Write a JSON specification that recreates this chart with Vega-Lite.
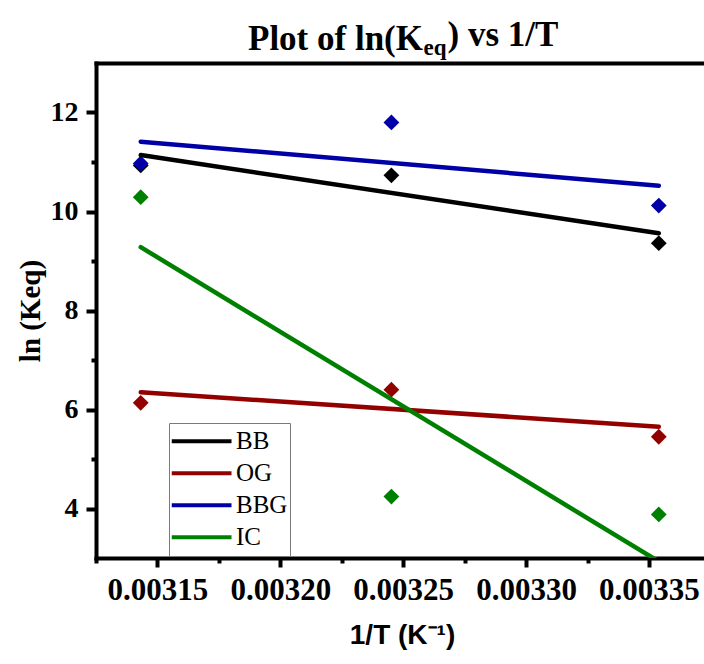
{
  "$schema": "https://vega.github.io/schema/vega-lite/v6.json",
  "width": 608,
  "height": 495,
  "autosize": {"type": "none"},
  "padding": {"left": 96, "top": 63, "right": 0, "bottom": 106},
  "background": "white",
  "view": {"stroke": null},
  "title": {
    "text": "Plot of ln(K",
    "anchor": "start",
    "frame": "group",
    "dx": 152,
    "offset": -68,
    "baseline": "alphabetic",
    "font": "Liberation Serif",
    "fontSize": 35,
    "fontWeight": "bold",
    "color": "black"
  },
  "datasets": {
    "measured": [
      {"series": "BB", "invT": 0.0031432, "lnK": 10.93},
      {"series": "BB", "invT": 0.0032452, "lnK": 10.73},
      {"series": "BB", "invT": 0.003354, "lnK": 9.36},
      {"series": "OG", "invT": 0.0031432, "lnK": 6.135},
      {"series": "OG", "invT": 0.0032452, "lnK": 6.4},
      {"series": "OG", "invT": 0.003354, "lnK": 5.45},
      {"series": "BBG", "invT": 0.0031432, "lnK": 10.97},
      {"series": "BBG", "invT": 0.0032452, "lnK": 11.8},
      {"series": "BBG", "invT": 0.003354, "lnK": 10.12},
      {"series": "IC", "invT": 0.0031432, "lnK": 10.29},
      {"series": "IC", "invT": 0.0032452, "lnK": 4.24},
      {"series": "IC", "invT": 0.003354, "lnK": 3.88}
    ],
    "fitted": [
      {"series": "BB", "invT": 0.0031432, "lnK": 11.14},
      {"series": "BB", "invT": 0.003354, "lnK": 9.56},
      {"series": "OG", "invT": 0.0031432, "lnK": 6.35},
      {"series": "OG", "invT": 0.003354, "lnK": 5.65},
      {"series": "BBG", "invT": 0.0031432, "lnK": 11.41},
      {"series": "BBG", "invT": 0.003354, "lnK": 10.52},
      {"series": "IC", "invT": 0.0031432, "lnK": 9.28},
      {"series": "IC", "invT": 0.003354, "lnK": 2.93}
    ]
  },
  "layer": [
    {
      "data": {"name": "measured"},
      "mark": {"type": "point", "shape": "diamond", "filled": true, "size": 250, "opacity": 1, "strokeWidth": 0},
      "encoding": {
        "x": {
          "field": "invT",
          "type": "quantitative",
          "scale": {"domain": [0.003125, 0.0033724], "nice": false, "zero": false},
          "axis": {
            "orient": "bottom",
            "values": [0.003125, 0.00315, 0.003175, 0.0032, 0.003225, 0.00325, 0.003275, 0.0033, 0.003325, 0.00335],
            "grid": false,
            "domainColor": "black",
            "domainWidth": 4,
            "domainCap": "square",
            "tickColor": "black",
            "tickWidth": 4,
            "tickSize": {"condition": {"test": "round(datum.value * 200000) % 2 === 0", "value": 9}, "value": 5},
            "labelExpr": "round(datum.value * 200000) % 2 === 0 ? format(datum.value, '.5f') : ''",
            "labelFont": "Liberation Serif",
            "labelFontSize": 31,
            "labelFontWeight": "bold",
            "labelColor": "black",
            "labelPadding": 8,
            "labelFlush": false,
            "labelOverlap": false,
            "title": "1/T (K⁻¹)",
            "titleFont": "Liberation Sans",
            "titleFontSize": 28,
            "titleFontWeight": "bold",
            "titleColor": "black",
            "titleX": 306,
            "titleY": 85,
            "titleAlign": "center",
            "titleBaseline": "alphabetic"
          }
        },
        "y": {
          "field": "lnK",
          "type": "quantitative",
          "scale": {"domain": [3, 13], "nice": false, "zero": false},
          "axis": {
            "orient": "left",
            "values": [4, 5, 6, 7, 8, 9, 10, 11, 12],
            "grid": false,
            "domainColor": "black",
            "domainWidth": 4,
            "domainCap": "square",
            "tickColor": "black",
            "tickWidth": 4,
            "tickSize": {"condition": {"test": "datum.value % 2 === 0", "value": 10}, "value": 5},
            "labelExpr": "datum.value % 2 === 0 ? datum.label : ''",
            "labelFont": "Liberation Serif",
            "labelFontSize": 28,
            "labelFontWeight": "bold",
            "labelColor": "black",
            "labelPadding": 8,
            "title": "ln (Keq)",
            "titleFont": "Liberation Serif",
            "titleFontSize": 29,
            "titleFontWeight": "bold",
            "titleColor": "black",
            "titleX": -66,
            "titleY": 247.5,
            "titleBaseline": "middle"
          }
        },
        "fill": {
          "field": "series",
          "type": "nominal",
          "scale": {"domain": ["IC", "BBG", "OG", "BB"], "range": ["#008000", "#0000A6", "#930000", "#000000"]},
          "legend": null
        }
      }
    },
    {
      "data": {"name": "fitted"},
      "mark": {"type": "line", "strokeWidth": 4.5, "strokeCap": "round", "clip": true},
      "encoding": {
        "x": {
          "field": "invT",
          "type": "quantitative",
          "scale": {"domain": [0.003125, 0.0033724], "nice": false, "zero": false},
          "axis": {
            "orient": "top",
            "grid": false,
            "ticks": false,
            "labels": false,
            "domainColor": "black",
            "domainWidth": 4,
            "domainCap": "square",
            "title": "eq",
            "titleFont": "Liberation Serif",
            "titleFontSize": 23,
            "titleFontWeight": "bold",
            "titleColor": "black",
            "titleX": 327,
            "titleY": -9,
            "titleAlign": "left",
            "titleBaseline": "alphabetic"
          }
        },
        "y": {
          "field": "lnK",
          "type": "quantitative",
          "scale": {"domain": [3, 13], "nice": false, "zero": false},
          "axis": {
            "orient": "right",
            "grid": false,
            "domain": false,
            "ticks": false,
            "labels": false,
            "title": ") vs 1/T",
            "titleAngle": 0,
            "titleFont": "Liberation Serif",
            "titleFontSize": 35,
            "titleFontWeight": "bold",
            "titleColor": "black",
            "titleX": -257,
            "titleY": -18,
            "titleAlign": "left",
            "titleBaseline": "alphabetic"
          }
        },
        "color": {
          "field": "series",
          "type": "nominal",
          "scale": {"domain": ["BB", "OG", "BBG", "IC"], "range": ["#000000", "#930000", "#0000A6", "#008000"]},
          "legend": {
            "orient": "none",
            "legendX": 73,
            "legendY": 360,
            "title": null,
            "direction": "vertical",
            "fillColor": "white",
            "strokeColor": "#7a7a7a",
            "padding": 2.5,
            "rowPadding": 0,
            "clipHeight": 31.7,
            "symbolType": "stroke",
            "symbolSize": 3600,
            "symbolStrokeWidth": 4,
            "symbolOffset": -2,
            "labelOffset": 2.5,
            "labelFont": "Liberation Serif",
            "labelFontSize": 25,
            "labelFontWeight": "normal",
            "labelColor": "black"
          }
        }
      }
    }
  ],
  "resolve": {"axis": {"x": "independent", "y": "independent"}}
}
